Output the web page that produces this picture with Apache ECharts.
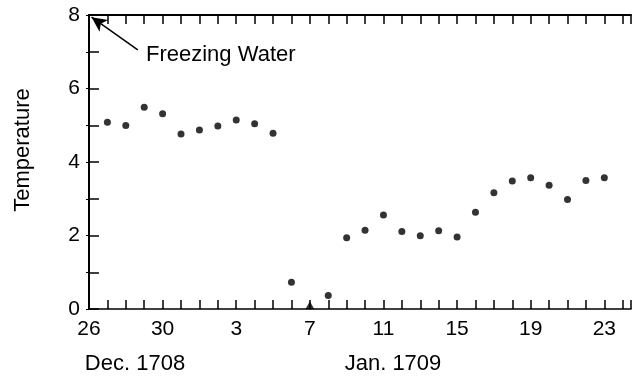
<!DOCTYPE html>
<html>
<head>
<meta charset="utf-8">
<script src="https://cdn.jsdelivr.net/npm/echarts@6/dist/echarts.min.js"></script>
<style>html,body{margin:0;padding:0;background:#fff;}#c{width:634px;height:376px;}</style>
</head>
<body>
<div id="c"></div>
<script>
// Days counted from Dec. 26, 1708 (day 0)
const days = [1,2,3,4,5,6,7,8,9,10,11,13,14,15,16,17,18,19,20,21,22,23,24,25,26,27,28];
const temps = [5.08,4.99,5.49,5.31,4.76,4.87,4.98,5.14,5.04,4.78,0.73,0.37,1.94,2.14,2.56,2.11,1.99,2.13,1.96,2.63,3.16,3.48,3.57,3.37,2.98,3.50,3.57];
const triangleDays = [12];
const triangleTemps = [0.1];
const tickLabels = ["26","30","3","7","11","15","19","23"];
const yTickLabels = ["0","2","4","6","8"];
const monthLabels = ["Dec. 1708","Jan. 1709"];
const yName = "Temperature";
const annotation = "Freezing Water";

const FONT = "'Liberation Sans', Arial, sans-serif";
const FS = 21;
const FS2 = 22;
const chart = echarts.init(document.getElementById('c'), null, {renderer:'canvas'});

const xCommon = {
  type:'value', min:0, max:29.45, interval:1,
  splitLine:{show:false},
};
chart.setOption({
  animation:false,
  backgroundColor:'#fff',
  grid:{left:89, top:15, right:1, bottom:67, containLabel:false},
  xAxis:[
    Object.assign({}, xCommon, {
      position:'bottom',
      axisLine:{show:true, onZero:false, lineStyle:{color:'#000', width:1.5}},
      axisTick:{show:true, inside:true, length:9, lineStyle:{color:'#000', width:1.5}},
      axisLabel:{show:true, margin:10, color:'#000', fontSize:FS, fontFamily:FONT,
        formatter:function(v){ return (Math.abs(v%4)<1e-9 && tickLabels[v/4]!==undefined) ? tickLabels[v/4] : ''; }}
    }),
    Object.assign({}, xCommon, {
      position:'top',
      axisLine:{show:true, onZero:false, lineStyle:{color:'#000', width:2}},
      axisTick:{show:true, inside:true, length:9, lineStyle:{color:'#000', width:1.5}},
      axisLabel:{show:false}
    })
  ],
  yAxis:[
    {
      type:'value', min:0, max:8, interval:1, position:'left',
      axisLine:{show:true, onZero:false, lineStyle:{color:'#000', width:2}},
      axisTick:{show:true, inside:true, length:10, lineStyle:{color:'#000', width:1.5}},
      axisLabel:{show:true, margin:9, color:'#000', fontSize:FS, fontFamily:FONT,
        formatter:function(v){ return (v%2===0) ? yTickLabels[v/2] : ''; }},
      splitLine:{show:false}
    },
    {
      type:'value', min:0, max:8, interval:1, position:'right',
      axisLine:{show:false},
      axisTick:{show:true, inside:true, length:3, lineStyle:{color:'#000', width:1}},
      axisLabel:{show:false},
      splitLine:{show:false}
    }
  ],
  series:[
    {
      type:'scatter', xAxisIndex:0, yAxisIndex:0,
      symbol:'circle', symbolSize:7,
      itemStyle:{color:'#000'},
      data: days.map((d,i)=>[d, temps[i]]),
      markLine:{
        silent:true, symbol:['none','arrow'], symbolSize:[11,15],
        lineStyle:{color:'#000', width:1.5, type:'solid'},
        label:{show:false},
        data:[[{coord:[2.65,7.05]},{coord:[0.14,7.94]}]]
      }
    },
    {
      type:'scatter', xAxisIndex:0, yAxisIndex:0,
      symbol:'triangle', symbolSize:[9,8],
      itemStyle:{color:'#000'},
      data: triangleDays.map((d,i)=>[d, triangleTemps[i]])
    }
  ],
  graphic:[
    {type:'text', left:146, top:44, style:{text:annotation, font:FS2+'px '+FONT, fill:'#000'}},
    {type:'text', x:23, y:150, rotation:Math.PI/2, style:{text:yName, font:FS2+'px '+FONT, fill:'#000', align:'center', verticalAlign:'middle'}},
    {type:'text', x:135, y:364, style:{text:monthLabels[0], font:FS2+'px '+FONT, fill:'#000', align:'center', verticalAlign:'middle'}},
    {type:'text', x:393, y:364, style:{text:monthLabels[1], font:FS2+'px '+FONT, fill:'#000', align:'center', verticalAlign:'middle'}}
  ]
});
</script>
</body>
</html>
